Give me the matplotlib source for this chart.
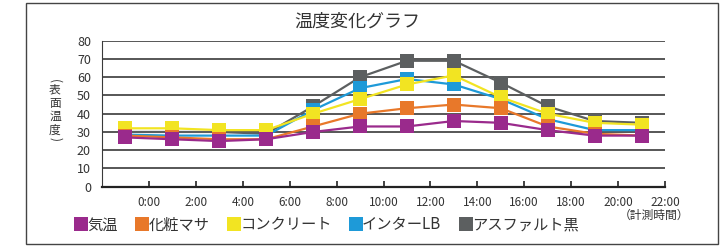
import matplotlib.pyplot as plt
from matplotlib.lines import Line2D
from matplotlib.patches import Rectangle

plt.rcParams['font.family'] = ['Noto Sans CJK JP', 'DejaVu Sans']

# 計測時刻 (時) - 各点は目盛の間に置かれている
hours = [-1, 1, 3, 5, 7, 9, 11, 13, 15, 17, 19, 21]
tick_hours = [0, 2, 4, 6, 8, 10, 12, 14, 16, 18, 20, 22]
tick_labels = ['0:00', '2:00', '4:00', '6:00', '8:00', '10:00',
               '12:00', '14:00', '16:00', '18:00', '20:00', '22:00']

names = ['気温', '化粧マサ', 'コンクリート', 'インターLB', 'アスファルト黒']
kion = [27, 26, 25, 26, 30, 33, 33, 36, 35, 31, 28, 28]
masa = [28, 27, 26, 26, 33, 40, 43, 45, 43, 33, 29, 28]
concrete = [32, 32, 31, 31, 40, 48, 56, 61, 49, 40, 35, 34]
inter_lb = [28.5, 28, 28, 28, 42, 54, 59, 56, 48, 37, 31, 31]
asphalt = [30, 30, 30, 29, 44, 60, 69, 69, 57, 44, 36, 35]

series = [kion, masa, concrete, inter_lb, asphalt]
colors = ['#9a2a8c', '#e8782a', '#f2e422', '#1e9ad8', '#5c5f60']

fig = plt.figure(figsize=(7.22, 2.46), dpi=100)
ax = fig.add_axes([102 / 722, 1 - 186.7 / 246, 563 / 722, 146 / 246])

# 後ろから描く (気温が一番手前)
for vals, c in reversed(list(zip(series, colors))):
    ax.plot(hours, vals, color=c, lw=1.6, marker='s', markersize=10.5,
            markeredgewidth=0)

ax.set_xlim(-2, 22)
ax.set_ylim(0, 80)
ax.set_yticks(range(0, 81, 10))
ax.set_xticks(tick_hours)
ax.set_xticklabels(tick_labels)
ax.grid(axis='y', color='#3a3a3a', lw=1.2)
ax.set_axisbelow(True)
for s in ['top', 'right']:
    ax.spines[s].set_visible(False)
ax.spines['left'].set_color('#3a3a3a')
ax.spines['bottom'].set_color('#222222')
ax.spines['bottom'].set_linewidth(1.6)
ax.tick_params(axis='y', length=0, labelsize=9, pad=8, labelcolor='#333333')
ax.tick_params(axis='x', direction='in', length=4, width=1.2, color='#222222',
               labelsize=8.5, pad=7, labelcolor='#333333')

fig.text(357 / 722, 1 - 22 / 246, '温度変化グラフ', ha='center', va='center',
         fontsize=13, color='#333333')

# 縦書きの軸ラベル (表面温度)
fig.text(55 / 722, 1 - 81 / 246, '(', rotation=-90, ha='center', va='center',
         fontsize=8.5, color='#333333')
fig.text(55 / 722, 1 - 110 / 246, '表\n面\n温\n度', ha='center', va='center',
         fontsize=8.5, color='#333333', linespacing=1.05)
fig.text(55 / 722, 1 - 139 / 246, ')', rotation=-90, ha='center', va='center',
         fontsize=8.5, color='#333333')

fig.text(689 / 722, 1 - 215 / 246, '（計測時間）', ha='right', va='center',
         fontsize=8.5, color='#333333')

handles = [Line2D([], [], color=c, marker='s', linestyle='none', markersize=10.5,
                  markeredgewidth=0) for c in colors]
leg = fig.legend(handles, names, loc='center left', bbox_to_anchor=(76 / 722, 1 - 225 / 246),
                 ncol=5, frameon=False, fontsize=11, handlelength=0.7,
                 handletextpad=0.05, columnspacing=1.25, borderpad=0, borderaxespad=0)
for t in leg.get_texts():
    t.set_color('#333333')

fig.patches.append(Rectangle((26 / 722, 2 / 246), 692 / 722, 241 / 246,
                             transform=fig.transFigure, fill=False,
                             edgecolor='#444444', lw=1.0))

fig.savefig('out.png', dpi=100)
